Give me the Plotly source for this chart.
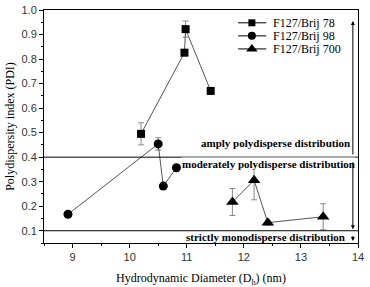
import plotly.graph_objects as go

# Data
b78_x = [10.2, 10.96, 10.98, 11.42]
b78_y = [0.495, 0.826, 0.922, 0.67]
b78_err = [0.045, 0.0, 0.033, 0.0]

b98_x = [8.92, 10.5, 10.59, 10.82]
b98_y = [0.167, 0.454, 0.282, 0.357]
b98_err = [0.0, 0.025, 0.0, 0.0]

b700_x = [11.8, 12.18, 12.42, 13.39]
b700_y = [0.217, 0.306, 0.133, 0.157]
b700_err = [0.055, 0.08, 0.01, 0.053]

names = ["F127/Brij 78", "F127/Brij 98", "F127/Brij 700"]
region_labels = ["amply polydisperse distribution",
                 "moderately polydisperse distribution",
                 "strictly monodisperse distribution"]
thresholds = [0.4, 0.1]
x_ticks = [9, 10, 11, 12, 13, 14]
y_ticks = [0.1, 0.2, 0.3, 0.4, 0.5, 0.6, 0.7, 0.8, 0.9, 1.0]
y_ticktext = ["0.1", "0.2", "0.3", "0.4", "0.5", "0.6", "0.7", "0.8", "0.9", "1.0"]

serif = "Liberation Serif, Times New Roman, serif"
fig = go.Figure()
series = [
    (b78_x, b78_y, b78_err, "square", 8),
    (b98_x, b98_y, b98_err, "circle", 9),
    (b700_x, b700_y, b700_err, "triangle-up", 11),
]
leg_rows = [0.945, 0.889, 0.833]
for (xs, ys, es, sym, sz), nm, ly in zip(series, names, leg_rows):
    fig.add_trace(go.Scatter(
        x=xs, y=ys, name=nm, mode="lines+markers", showlegend=False,
        line=dict(color="#555555", width=1),
        marker=dict(symbol=sym, size=sz, color="black"),
        error_y=dict(type="data", array=es, visible=True,
                     color="#888888", thickness=1, width=3),
    ))
    # manual legend entry (overlay axes in paper-like units)
    fig.add_trace(go.Scatter(
        x=[0.618, 0.662, 0.708], y=[ly, ly, ly], xaxis="x2", yaxis="y2",
        mode="lines", line=dict(color="black", width=1),
        showlegend=False, hoverinfo="skip"))
    fig.add_trace(go.Scatter(
        x=[0.662], y=[ly], xaxis="x2", yaxis="y2", mode="markers",
        marker=dict(symbol=sym, size=sz - 1, color="black"),
        showlegend=False, hoverinfo="skip"))
    fig.add_annotation(x=0.722, y=ly, xref="x2", yref="y2", text=nm,
                       showarrow=False, xanchor="left", yanchor="middle",
                       font=dict(family=serif, size=12, color="black"))

for t in thresholds:
    fig.add_shape(type="line", xref="paper", x0=0, x1=1, yref="y", y0=t, y1=t,
                  line=dict(color="black", width=1))

label_font = dict(family=serif, size=11, color="black")
fig.add_annotation(x=12.55, y=0.459, text="<b>" + region_labels[0] + "</b>",
                   showarrow=False, font=label_font)
fig.add_annotation(x=12.43, y=0.374, text="<b>" + region_labels[1] + "</b>",
                   showarrow=False, font=label_font, bgcolor="white", borderpad=0)
fig.add_annotation(x=12.38, y=0.073, text="<b>" + region_labels[2] + "</b>",
                   showarrow=False, font=label_font)

# arrows
arrow_x = 13.91
fig.add_annotation(x=arrow_x, y=0.955, ax=arrow_x, ay=0.405, xref="x", yref="y",
                   axref="x", ayref="y", showarrow=True, arrowhead=2,
                   arrowsize=0.8, arrowwidth=1, arrowcolor="black", text="")
fig.add_annotation(x=arrow_x, y=0.106, ax=arrow_x, ay=0.385, xref="x", yref="y",
                   axref="x", ayref="y", showarrow=True, arrowhead=2,
                   arrowsize=0.8, arrowwidth=1, arrowcolor="black", text="")
fig.add_annotation(x=arrow_x, y=0.058, ax=arrow_x, ay=0.085, xref="x", yref="y",
                   axref="x", ayref="y", showarrow=True, arrowhead=2,
                   arrowsize=0.8, arrowwidth=1, arrowcolor="black", text="")

tick_font = dict(family="Liberation Sans, Arial, sans-serif", size=11, color="#333333")
title_font = dict(family=serif, size=12, color="black")

fig.update_layout(
    width=370, height=287,
    margin=dict(l=44, r=12, t=10, b=44),
    paper_bgcolor="white", plot_bgcolor="white",
    showlegend=False,
    xaxis=dict(range=[8.5, 14], tickvals=x_ticks, automargin=False,
               ticks="outside", ticklen=4, tickcolor="black",
               minor=dict(dtick=0.5, ticks="outside", ticklen=2, tickcolor="black"),
               showline=True, linecolor="black", linewidth=1, mirror=True,
               showgrid=False, zeroline=False, tickfont=tick_font,
               title=dict(text="Hydrodynamic Diameter (D<sub>h</sub>) (nm)",
                          font=title_font, standoff=13)),
    yaxis=dict(range=[0.05, 1.0], tickvals=y_ticks, ticktext=y_ticktext, automargin=False,
               ticks="outside", ticklen=4, tickcolor="black",
               minor=dict(dtick=0.05, tick0=0.05, ticks="outside", ticklen=2, tickcolor="black"),
               showline=True, linecolor="black", linewidth=1, mirror=True,
               showgrid=False, zeroline=False, tickfont=tick_font,
               title=dict(text="Polydispersity index (PDI)", font=title_font, standoff=4)),
    xaxis2=dict(overlaying="x", range=[0, 1], visible=False, fixedrange=True),
    yaxis2=dict(overlaying="y", range=[0, 1], visible=False, fixedrange=True),
)

fig.write_html("out.html", config={"displayModeBar": False},
               post_script="document.body.style.margin='0';")
